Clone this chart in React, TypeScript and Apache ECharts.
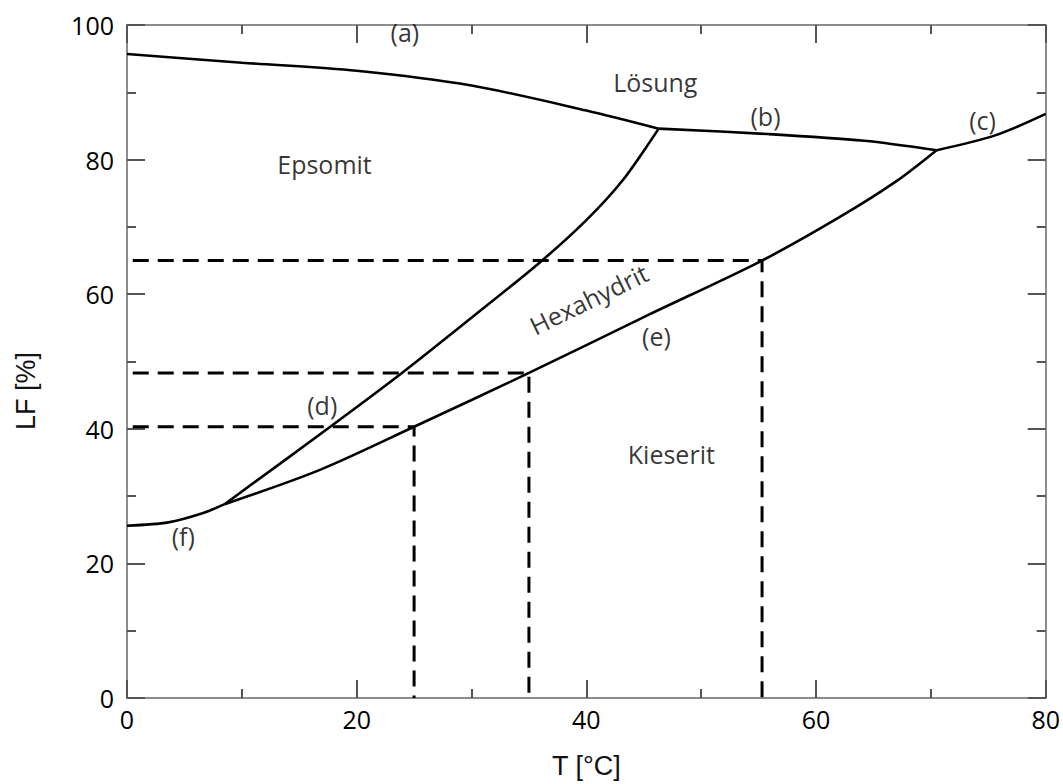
import React, { useEffect, useRef } from "react";
import * as echarts from "echarts";

// Phase boundary curves [T (°C), LF (%)]
const curveA: number[][] = [[0, 95.7], [10, 94.4], [20, 93.2], [30, 91.0], [40, 87.3], [46.3, 84.6]];
const curveB: number[][] = [[46.3, 84.6], [55.8, 83.8], [64.2, 82.8], [70.5, 81.4]];
const curveC: number[][] = [[70.5, 81.4], [75.6, 83.6], [80, 86.8]];
const curveD: number[][] = [[8.5, 28.8], [17.7, 40.3], [23.8, 48.1], [30, 56.5], [36, 64.8], [40, 71.0], [43.2, 77.0], [46.3, 84.6]];
const curveE: number[][] = [[8.5, 28.8], [16.8, 33.9], [25, 40.3], [35, 48.3], [45, 56.6], [55.3, 65.0], [62, 71.4], [67, 76.8], [70.5, 81.4]];
const curveF: number[][] = [[0, 25.6], [3.6, 26.1], [6.5, 27.4], [8.5, 28.8]];

// Dashed read-off lines
const dropT: number[] = [25, 35, 55.3];
const dropLF: number[] = [40.3, 48.3, 65.0];
const dropStartT = 0.5;

// Annotations
const labelTexts: string[] = ["(a)", "Lösung", "(b)", "(c)", "Epsomit", "Hexahydrit", "(e)", "(d)", "Kieserit", "(f)"];
const labelT: number[] = [24.2, 46.0, 55.6, 74.5, 17.2, 40.2, 46.1, 17.0, 47.4, 4.9];
const labelLF: number[] = [99.0, 91.6, 86.5, 85.9, 79.4, 59.3, 53.8, 43.6, 36.3, 24.0];
const labelRotate: number[] = [0, 0, 0, 0, 0, 26, 0, 0, 0, 0];

// Axis ticks
const xMin = 0, xMax = 80, xStep = 20;
const yMin = 0, yMax = 100, yStep = 20;

const FONT = "'Open Sans', 'Noto Sans', sans-serif";
const AXIS_COLOR = "#8c8c8c";
const TICK_COLOR = "#555555";

export default function App() {
  const ref = useRef<HTMLDivElement>(null);

  useEffect(() => {
    if (!ref.current) return;
    const chart = echarts.init(ref.current, undefined, { renderer: "svg" });

    const solid = (data: number[][]) => ({
      type: "line",
      data,
      smooth: 0.3,
      showSymbol: false,
      symbol: "none",
      lineStyle: { color: "#000", width: 2.6 },
      z: 3,
    });

    const dashed = dropT.map((t, i) => ({
      type: "line",
      data: [[dropStartT, dropLF[i]], [t, dropLF[i]], [t, 0]],
      showSymbol: false,
      symbol: "none",
      lineStyle: { color: "#000", width: 3, type: [16, 9] },
      z: 2,
    }));

    const tickCommon = {
      axisLine: { show: true, onZero: false, lineStyle: { color: AXIS_COLOR, width: 2 } },
      axisTick: { show: true, inside: true, length: 18, lineStyle: { color: TICK_COLOR, width: 2 } },
      minorTick: { show: true, splitNumber: 2, length: 9, lineStyle: { color: TICK_COLOR, width: 2 } },
      splitLine: { show: false },
      minorSplitLine: { show: false },
    };

    const option: any = {
      animation: false,
      backgroundColor: "#ffffff",
      grid: { left: 127, right: 11, top: 25, bottom: 84, containLabel: false },
      xAxis: [
        {
          type: "value",
          min: xMin,
          max: xMax,
          interval: xStep,
          position: "bottom",
          ...tickCommon,
          axisLabel: { show: true, fontFamily: FONT, fontSize: 25, color: "#000", margin: 8 },
          name: "T [°C]",
          nameLocation: "middle",
          nameGap: 54,
          nameTextStyle: { fontFamily: "'Liberation Sans', Arial, sans-serif", fontSize: 27, color: "#111" },
        },
        {
          type: "value",
          min: xMin,
          max: xMax,
          interval: xStep,
          position: "top",
          ...tickCommon,
          axisLabel: { show: false },
        },
      ],
      yAxis: [
        {
          type: "value",
          min: yMin,
          max: yMax,
          interval: yStep,
          position: "left",
          ...tickCommon,
          axisLabel: { show: true, fontFamily: FONT, fontSize: 25, color: "#000", margin: 13 },
        },
        {
          type: "value",
          min: yMin,
          max: yMax,
          interval: yStep,
          position: "right",
          ...tickCommon,
          axisLabel: { show: false },
        },
      ],
      graphic: [
        {
          type: "text",
          x: 26,
          y: 391,
          rotation: Math.PI / 2,
          style: {
            text: "LF [%]",
            fontFamily: "'Liberation Sans', Arial, sans-serif",
            fontSize: 27,
            fill: "#111",
            align: "center",
            verticalAlign: "middle",
          },
        },
      ],
      series: [
        solid(curveA),
        solid(curveB),
        solid(curveC),
        solid(curveD),
        solid(curveE),
        solid(curveF),
        ...dashed,
        {
          type: "scatter",
          symbolSize: 0,
          silent: true,
          z: 5,
          data: labelTexts.map((txt, i) => ({
            value: [labelT[i], labelLF[i]],
            label: {
              show: true,
              position: "inside",
              formatter: txt,
              rotate: labelRotate[i],
              fontFamily: FONT,
              fontSize: 25,
              color: "#000",
            },
          })),
        },
      ],
    };

    chart.setOption(option);
    return () => chart.dispose();
  }, []);

  return (
    <div
      ref={ref}
      style={{ position: "fixed", left: 0, top: 0, width: 1063, height: 784, background: "#fff" }}
    />
  );
}
